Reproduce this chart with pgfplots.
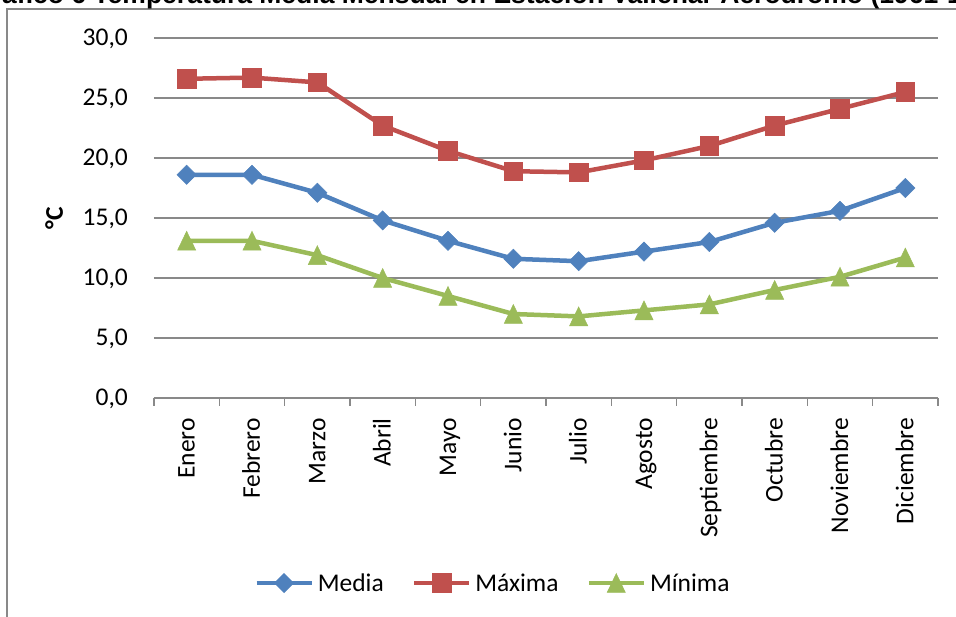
\documentclass[border=0pt]{standalone}
\usepackage{pgfplots}
\pgfplotsset{compat=1.18}
\usepackage{fontspec}
\setmainfont{Carlito}
\newfontfamily\titlefont{Liberation Sans}
\definecolor{cblue}{HTML}{4F81BD}
\definecolor{cred}{HTML}{C0504D}
\definecolor{cgreen}{HTML}{9BBB59}
\definecolor{cgrid}{HTML}{898989}
\newcommand\bodyfont{\fontsize{25.5pt}{30pt}\selectfont}
\begin{document}
\begin{tikzpicture}
\useasboundingbox (-154pt,-219pt) rectangle (802pt,398pt);
\clip (-154pt,-219pt) rectangle (802pt,398pt);
\fill[white] (-154pt,-219pt) rectangle (802pt,398pt);
\draw[cgrid, line width=1.3pt] (-147pt,-300pt) -- (-147pt,389pt) -- (900pt,389pt);
\node[anchor=base west, inner sep=0pt, font=\titlefont\bfseries\fontsize{26.5pt}{30pt}\selectfont] at (-152pt,394pt) {\llap{Gr}áfico 6 Temperatura Media Mensual en Estación Vallenar Aeródromo (1961-1990)};
\begin{axis}[
  at={(0pt,0pt)}, anchor=south west, scale only axis,
  width=784pt, height=360pt,
  xmin=-0.5, xmax=11.5, ymin=0, ymax=30,
  xtick={0,1,2,3,4,5,6,7,8,9,10,11},
  xticklabels={Enero,Febrero,Marzo,Abril,Mayo,Junio,Julio,Agosto,Septiembre,Octubre,Noviembre,Diciembre},
  minor xtick={-0.5,0.5,1.5,2.5,3.5,4.5,5.5,6.5,7.5,8.5,9.5,10.5,11.5},
  ytick={0,5,10,15,20,25,30},
  ymajorgrids, xmajorgrids=false,
  major grid style={cgrid, line width=1.3pt},
  axis x line*=bottom, axis y line*=left,
  y axis line style={draw=none},
  x axis line style={cgrid, line width=1.3pt},
  tick align=outside,
  major tick length=0pt, minor tick length=8pt,
  minor tick style={cgrid, line width=1.3pt},
  major tick style={draw=none},
  /pgf/number format/fixed, /pgf/number format/fixed zerofill,
  /pgf/number format/precision=1, /pgf/number format/use comma,
  /pgf/number format/assume math mode=true,
  tick label style={font=\bodyfont, inner sep=0pt, text height=16pt, text depth=0pt},
  xticklabel style={rotate=90, anchor=east},
  yticklabel style={anchor=east},
  xticklabel shift=20pt,
  yticklabel shift=26pt,
  every axis y label/.style={at={(axis description cs:-0.1263,0.5)}, rotate=90, anchor=center, font=\bodyfont\bfseries, inner sep=0pt, text height=16pt, text depth=0pt},
  ylabel={°C},
  legend columns=3,
  legend style={at={(0.431,-0.514)}, anchor=center, draw=none, fill=none, font=\bodyfont,
    nodes={inner sep=0pt},
    /tikz/every even column/.append style={column sep=28pt},
    /tikz/every odd column/.append style={column sep=4pt}},
  legend image code/.code={\draw[#1, mark repeat=2, mark phase=2] plot coordinates {(0pt,0pt) (27.5pt,0pt) (55pt,0pt)};},
  every axis plot/.append style={line width=4.5pt},
]
\addplot[cblue, mark=square*, mark size=6.8pt, mark options={solid, fill=cblue, line width=0.5pt, rotate=45}] coordinates {
(0,18.6) (1,18.6) (2,17.1) (3,14.8) (4,13.1) (5,11.6) (6,11.4) (7,12.2) (8,13.0) (9,14.6) (10,15.6) (11,17.5)};
\addlegendentry{Media}
\addplot[cred, mark=square*, mark size=9.3pt, mark options={solid, fill=cred, line width=0.5pt}] coordinates {
(0,26.6) (1,26.7) (2,26.3) (3,22.7) (4,20.6) (5,18.9) (6,18.8) (7,19.8) (8,21.0) (9,22.7) (10,24.1) (11,25.5)};
\addlegendentry{Máxima}
\addplot[cgreen, mark=triangle*, mark size=10.5pt, mark options={solid, fill=cgreen, line width=0.5pt, yshift=-3.1pt, yscale=1.2}] coordinates {
(0,13.1) (1,13.1) (2,11.9) (3,10.0) (4,8.5) (5,7.0) (6,6.8) (7,7.3) (8,7.8) (9,9.0) (10,10.1) (11,11.7)};
\addlegendentry{Mínima}
\end{axis}
\end{tikzpicture}
\end{document}
